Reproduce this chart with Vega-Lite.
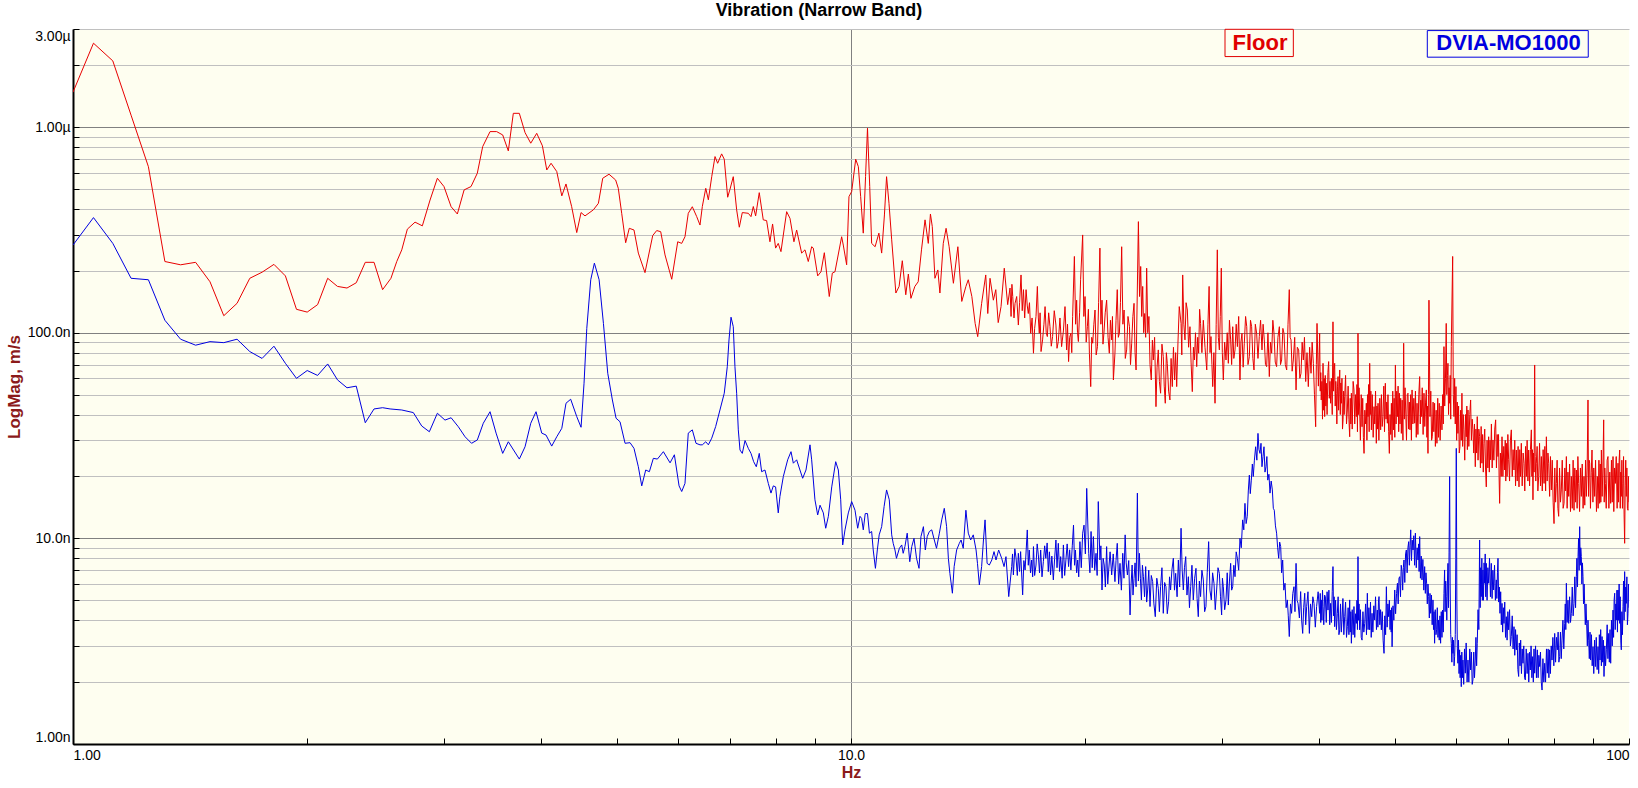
{
  "$schema": "https://vega.github.io/schema/vega-lite/v6.json",
  "description": "Vibration narrow band spectrum, Floor vs DVIA-MO1000, log-log",
  "width": 1556,
  "height": 715,
  "autosize": "none",
  "padding": {"left": 73, "top": 29, "right": 9, "bottom": 44},
  "background": "white",
  "title": {
    "text": "Vibration (Narrow Band)",
    "fontSize": 18,
    "fontWeight": "bold",
    "color": "black",
    "anchor": "middle",
    "offset": 9,
    "dx": -32
  },
  "datasets": {
    "floor": [
      {"f":1,"v":1479},{"f":1.0625,"v":2559},{"f":1.125,"v":2099},{"f":1.1875,"v":1143},{"f":1.25,"v":642},
      {"f":1.3125,"v":222},{"f":1.375,"v":214},{"f":1.4375,"v":220},{"f":1.5,"v":177},{"f":1.5625,"v":121},
      {"f":1.625,"v":139},{"f":1.6875,"v":184},{"f":1.75,"v":197},{"f":1.8125,"v":215},{"f":1.875,"v":189},
      {"f":1.9375,"v":130},{"f":2,"v":126},{"f":2.0625,"v":137},{"f":2.125,"v":184},{"f":2.1875,"v":168},
      {"f":2.25,"v":165},{"f":2.3125,"v":175},{"f":2.375,"v":220},{"f":2.4375,"v":220},{"f":2.5,"v":162},
      {"f":2.5625,"v":184},{"f":2.607,"v":222},{"f":2.646,"v":253},{"f":2.69,"v":319},{"f":2.752,"v":345},
      {"f":2.812,"v":331},{"f":2.877,"v":442},{"f":2.94,"v":564},{"f":2.998,"v":514},{"f":3.062,"v":410},
      {"f":3.119,"v":378},{"f":3.182,"v":495},{"f":3.248,"v":514},{"f":3.309,"v":597},{"f":3.362,"v":804},
      {"f":3.436,"v":951},{"f":3.504,"v":951},{"f":3.567,"v":916},{"f":3.627,"v":766},{"f":3.681,"v":1167},
      {"f":3.747,"v":1167},{"f":3.811,"v":940},{"f":3.876,"v":835},{"f":3.945,"v":933},{"f":4.012,"v":811},
      {"f":4.064,"v":619},{"f":4.116,"v":667},{"f":4.186,"v":608},{"f":4.249,"v":463},{"f":4.302,"v":529},
      {"f":4.375,"v":410},{"f":4.441,"v":307},{"f":4.498,"v":384},{"f":4.551,"v":370},{"f":4.665,"v":396},
      {"f":4.735,"v":426},{"f":4.796,"v":564},{"f":4.886,"v":590},{"f":4.983,"v":553},{"f":5.022,"v":504},
      {"f":5.073,"v":381},{"f":5.133,"v":274},{"f":5.188,"v":322},{"f":5.261,"v":316},{"f":5.329,"v":244},
      {"f":5.435,"v":196},{"f":5.561,"v":297},{"f":5.627,"v":314},{"f":5.694,"v":310},{"f":5.767,"v":239},
      {"f":5.883,"v":182},{"f":5.988,"v":277},{"f":6.059,"v":272},{"f":6.118,"v":293},{"f":6.178,"v":381},
      {"f":6.252,"v":410},{"f":6.334,"v":367},{"f":6.396,"v":334},{"f":6.44,"v":411},{"f":6.506,"v":504},
      {"f":6.556,"v":443},{"f":6.622,"v":574},{"f":6.687,"v":719},{"f":6.739,"v":667},{"f":6.819,"v":741},
      {"f":6.872,"v":698},{"f":6.942,"v":456},{"f":6.99,"v":499},{"f":7.058,"v":574},{"f":7.129,"v":396},
      {"f":7.185,"v":326},{"f":7.249,"v":384},{"f":7.379,"v":381},{"f":7.438,"v":367},{"f":7.489,"v":411},
      {"f":7.541,"v":370},{"f":7.622,"v":480},{"f":7.713,"v":354},{"f":7.79,"v":351},{"f":7.867,"v":277},
      {"f":7.929,"v":338},{"f":8,"v":258},{"f":8.063,"v":272},{"f":8.128,"v":248},{"f":8.266,"v":388},
      {"f":8.348,"v":360},{"f":8.446,"v":277},{"f":8.514,"v":316},{"f":8.641,"v":244},{"f":8.727,"v":253},
      {"f":8.812,"v":222},{"f":8.901,"v":262},{"f":8.944,"v":258},{"f":9.061,"v":189},{"f":9.15,"v":198},
      {"f":9.241,"v":245},{"f":9.377,"v":150},{"f":9.462,"v":195},{"f":9.537,"v":198},{"f":9.727,"v":293},
      {"f":9.774,"v":267},{"f":9.872,"v":214},{"f":9.94,"v":459},{"f":10.02,"v":486},{"f":10.14,"v":698},
      {"f":10.22,"v":642},{"f":10.29,"v":459},{"f":10.37,"v":305},{"f":10.44,"v":574},{"f":10.5,"v":988},
      {"f":10.57,"v":514},{"f":10.63,"v":272},{"f":10.74,"v":262},{"f":10.86,"v":305},{"f":10.95,"v":244},
      {"f":11.04,"v":374},{"f":11.11,"v":574},{"f":11.19,"v":426},{"f":11.28,"v":283},{"f":11.42,"v":156},
      {"f":11.53,"v":168},{"f":11.64,"v":224},{"f":11.76,"v":153},{"f":11.85,"v":193},{"f":11.94,"v":147},
      {"f":12.08,"v":168},{"f":12.2,"v":177},{"f":12.32,"v":253},{"f":12.45,"v":354},{"f":12.57,"v":272},
      {"f":12.65,"v":378},{"f":12.72,"v":328},{"f":12.82,"v":184},{"f":12.93,"v":202},{"f":13.01,"v":156},
      {"f":13.14,"v":272},{"f":13.25,"v":322},{"f":13.37,"v":262},{"f":13.54,"v":174},{"f":13.72,"v":262},
      {"f":13.88,"v":142},{"f":14.05,"v":168},{"f":14.15,"v":181},{"f":14.3,"v":150},{"f":14.44,"v":111},
      {"f":14.55,"v":95.7},{"f":14.72,"v":139},{"f":14.9,"v":191},{"f":14.99,"v":124},{"f":15.09,"v":184},
      {"f":15.24,"v":144},{"f":15.35,"v":162},{"f":15.46,"v":112},{"f":15.59,"v":134},{"f":15.74,"v":206},
      {"f":15.9,"v":137},
      {"f":16.01,"v":165},{"f":16.06,"v":120},{"f":16.1,"v":172},{"f":16.14,"v":150},{"f":16.2,"v":118},{"f":16.25,"v":139},
      {"f":16.33,"v":150},{"f":16.41,"v":109},{"f":16.47,"v":140},{"f":16.54,"v":191},{"f":16.6,"v":128},{"f":16.66,"v":162},
      {"f":16.72,"v":118},{"f":16.79,"v":162},{"f":16.85,"v":135},{"f":16.9,"v":124},{"f":16.96,"v":140},{"f":17.02,"v":99.4},
      {"f":17.09,"v":118},{"f":17.16,"v":79.5},{"f":17.22,"v":105},{"f":17.29,"v":120},{"f":17.36,"v":168},{"f":17.41,"v":118},
      {"f":17.46,"v":99.4},{"f":17.5,"v":125},{"f":17.55,"v":81},{"f":17.63,"v":92.3},{"f":17.7,"v":110},{"f":17.76,"v":134},
      {"f":17.82,"v":100},{"f":17.88,"v":95.8},{"f":17.95,"v":125},{"f":18.02,"v":107},{"f":18.09,"v":86},{"f":18.16,"v":95.8},
      {"f":18.25,"v":128},{"f":18.34,"v":109},{"f":18.4,"v":84},{"f":18.47,"v":90.6},{"f":18.56,"v":118},{"f":18.65,"v":85.6},
      {"f":18.75,"v":102},{"f":18.84,"v":134},{"f":18.93,"v":82.5},{"f":18.98,"v":110},{"f":19.04,"v":72.4},{"f":19.1,"v":95},
      {"f":19.17,"v":99.4},{"f":19.22,"v":80},{"f":19.27,"v":120},{"f":19.37,"v":235},{"f":19.44,"v":110},{"f":19.5,"v":144},
      {"f":19.55,"v":100},{"f":19.6,"v":90.6},{"f":19.67,"v":125},{"f":19.73,"v":181},{"f":19.85,"v":299},{"f":19.92,"v":120},
      {"f":19.99,"v":150},{"f":20.06,"v":90},{"f":20.13,"v":107},{"f":20.19,"v":130},{"f":20.25,"v":79.5},{"f":20.33,"v":54.7},
      {"f":20.39,"v":95},{"f":20.45,"v":88.9},{"f":20.52,"v":110},{"f":20.59,"v":129},{"f":20.66,"v":78},{"f":20.74,"v":85.6},
      {"f":20.81,"v":140},{"f":20.89,"v":258},{"f":20.95,"v":110},{"f":21.02,"v":144},{"f":21.08,"v":88},{"f":21.14,"v":99.4},
      {"f":21.22,"v":125},{"f":21.31,"v":144},{"f":21.4,"v":95},{"f":21.48,"v":79.5},{"f":21.55,"v":115},{"f":21.63,"v":92.3},
      {"f":21.68,"v":120},{"f":21.74,"v":58.9},{"f":21.84,"v":79.5},{"f":21.91,"v":115},{"f":21.99,"v":162},{"f":22.06,"v":95},
      {"f":22.13,"v":99.4},{"f":22.2,"v":140},{"f":22.28,"v":262},{"f":22.36,"v":110},{"f":22.44,"v":129},{"f":22.52,"v":75},
      {"f":22.61,"v":82.5},{"f":22.7,"v":120},{"f":22.8,"v":107},{"f":22.87,"v":70},{"f":22.95,"v":88.9},{"f":23.03,"v":120},
      {"f":23.11,"v":139},{"f":23.18,"v":80},{"f":23.25,"v":65.9},{"f":23.41,"v":347},{"f":23.49,"v":150},{"f":23.57,"v":210},
      {"f":23.64,"v":120},{"f":23.71,"v":168},{"f":23.78,"v":100},{"f":23.85,"v":124},{"f":23.92,"v":95},{"f":23.99,"v":206},
      {"f":24.07,"v":100},{"f":24.15,"v":120},{"f":24.23,"v":70},{"f":24.32,"v":58.9},{"f":24.4,"v":92},{"f":24.47,"v":73.7},
      {"f":24.56,"v":95},{"f":24.66,"v":43.7},{"f":24.74,"v":68},{"f":24.83,"v":82.5},{"f":24.91,"v":58},{"f":25,"v":50.8},
      {"f":25.1,"v":88},{"f":25.2,"v":76.5},{"f":25.27,"v":55},{"f":25.35,"v":45.4},{"f":25.43,"v":80},{"f":25.5,"v":71},
      {"f":25.6,"v":52},{"f":25.7,"v":47.1},{"f":25.79,"v":75},{"f":25.88,"v":54.7},{"f":25.97,"v":85},{"f":26.06,"v":58.9},
      {"f":26.14,"v":80},{"f":26.22,"v":54.7},{"f":26.32,"v":90},{"f":26.42,"v":134},{"f":26.56,"v":111},{"f":26.62,"v":78},
      {"f":26.69,"v":191},{"f":26.78,"v":110},{"f":26.87,"v":92.3},{"f":26.96,"v":140},{"f":27.06,"v":129},{"f":27.16,"v":85},
      {"f":27.27,"v":107},{"f":27.36,"v":72},{"f":27.46,"v":51.7},{"f":27.55,"v":85},{"f":27.63,"v":73.7},{"f":27.72,"v":100},
      {"f":27.82,"v":68.4},{"f":27.9,"v":95},{"f":27.98,"v":79.5},{"f":28.06,"v":130},{"f":28.14,"v":111},{"f":28.25,"v":80},
      {"f":28.37,"v":115},{"f":28.51,"v":85},{"f":28.66,"v":65.9},{"f":28.76,"v":110},{"f":28.86,"v":168},{"f":28.94,"v":80},
      {"f":29.02,"v":95.8},{"f":29.1,"v":70},{"f":29.17,"v":54.7},{"f":29.27,"v":80},{"f":29.37,"v":45.4},{"f":29.47,"v":110},
      {"f":29.57,"v":253},{"f":29.66,"v":95},{"f":29.75,"v":82.5},{"f":29.83,"v":120},{"f":29.92,"v":206},{"f":30.01,"v":80},
      {"f":30.1,"v":58.9},{"f":30.22,"v":90},{"f":30.34,"v":73.7},{"f":30.45,"v":100},{"f":30.55,"v":71},{"f":30.65,"v":115},
      {"f":30.76,"v":92.3},{"f":30.85,"v":70},{"f":30.95,"v":107},{"f":31.05,"v":75},{"f":31.16,"v":82.5},{"f":31.27,"v":110},
      {"f":31.38,"v":85.6},{"f":31.5,"v":120},{"f":31.62,"v":58.9},{"f":31.71,"v":90},{"f":31.81,"v":99.4},{"f":31.92,"v":68},
      {"f":32.03,"v":88.9},{"f":32.15,"v":120},{"f":32.26,"v":107},{"f":32.38,"v":70},{"f":32.51,"v":76.5},{"f":32.62,"v":115},
      {"f":32.73,"v":107},{"f":32.85,"v":75},{"f":32.96,"v":65.9},{"f":33.09,"v":110},{"f":33.22,"v":99.4},{"f":33.35,"v":75},
      {"f":33.48,"v":95.8},{"f":33.61,"v":115},{"f":33.75,"v":82.5},{"f":33.86,"v":110},{"f":33.98,"v":92.3},{"f":34.1,"v":70},
      {"f":34.22,"v":68.4},{"f":34.35,"v":100},{"f":34.49,"v":61.2},{"f":34.61,"v":90},{"f":34.73,"v":79.5},{"f":34.85,"v":115},
      {"f":34.97,"v":99.4},{"f":35.1,"v":72},{"f":35.24,"v":68.4},{"f":35.38,"v":95},{"f":35.53,"v":107},{"f":35.65,"v":70},
      {"f":35.77,"v":73.7},{"f":35.9,"v":105},{"f":36.02,"v":99.4},{"f":36.16,"v":70},{"f":36.31,"v":65.9},{"f":36.45,"v":110},
      {"f":36.59,"v":162},{"f":36.68,"v":95},{"f":36.78,"v":92.3},{"f":36.9,"v":65},{"f":37.03,"v":73.7},{"f":37.18,"v":95},
      {"f":37.33,"v":52.7},{"f":37.47,"v":85},{"f":37.62,"v":82.5},{"f":37.75,"v":60},{"f":37.88,"v":63.5},{"f":38.01,"v":90},
      {"f":38.14,"v":73.7},{"f":38.27,"v":95},{"f":38.41,"v":57.9},{"f":38.56,"v":80},{"f":38.71,"v":54.7},{"f":38.86,"v":85},
      {"f":39.02,"v":63.5},{"f":39.15,"v":90},{"f":39.29,"v":71},{"f":39.42,"v":50},{"f":39.56,"v":34.9},{"f":39.64,"v":70},
      {"f":39.72,"v":111},{"f":39.88,"v":55},
      {"f":40.03,"v":99.4},{"f":40.1,"v":52},{"f":40.16,"v":64},{"f":40.22,"v":47.1},{"f":40.3,"v":58},{"f":40.37,"v":38},
      {"f":40.43,"v":71},{"f":40.5,"v":42},{"f":40.57,"v":60},{"f":40.63,"v":39.1},{"f":40.7,"v":62},{"f":40.77,"v":44},
      {"f":40.83,"v":56.8},{"f":40.92,"v":40},{"f":41.02,"v":64},{"f":41.11,"v":72.4},{"f":41.19,"v":48},{"f":41.27,"v":58},
      {"f":41.35,"v":45.4},{"f":41.45,"v":60},{"f":41.55,"v":40},{"f":41.64,"v":113},{"f":41.71,"v":52},{"f":41.78,"v":66},
      {"f":41.85,"v":71},{"f":41.92,"v":44},{"f":41.99,"v":58},{"f":42.05,"v":50.8},{"f":42.12,"v":36},{"f":42.2,"v":55},
      {"f":42.27,"v":61.2},{"f":42.34,"v":42},{"f":42.41,"v":52},{"f":42.48,"v":65.9},{"f":42.55,"v":40},{"f":42.62,"v":57},
      {"f":42.69,"v":45.4},{"f":42.76,"v":60},{"f":42.83,"v":34},{"f":42.9,"v":37.7},{"f":42.97,"v":52},{"f":43.04,"v":40},
      {"f":43.11,"v":48.9},{"f":43.22,"v":62},{"f":43.34,"v":36},{"f":43.45,"v":42.1},{"f":43.55,"v":55},{"f":43.65,"v":38},
      {"f":43.75,"v":31.2},{"f":43.82,"v":48},{"f":43.9,"v":36},{"f":43.97,"v":50.8},{"f":44.08,"v":34},{"f":44.2,"v":58},
      {"f":44.31,"v":52.7},{"f":44.41,"v":36},{"f":44.52,"v":50},{"f":44.62,"v":39.1},{"f":44.7,"v":56},{"f":44.77,"v":33},
      {"f":44.84,"v":99.4},{"f":44.91,"v":40},{"f":44.98,"v":54},{"f":45.06,"v":42.1},{"f":45.16,"v":30},{"f":45.27,"v":50},
      {"f":45.38,"v":34.9},{"f":45.47,"v":48},{"f":45.56,"v":31},{"f":45.65,"v":25.9},{"f":45.75,"v":42},{"f":45.86,"v":36},
      {"f":45.96,"v":45.4},{"f":46.04,"v":30},{"f":46.12,"v":50},{"f":46.19,"v":39.1},{"f":46.27,"v":56},{"f":46.35,"v":33},
      {"f":46.42,"v":71},{"f":46.5,"v":40},{"f":46.58,"v":52},{"f":46.65,"v":33.7},{"f":46.77,"v":50},{"f":46.9,"v":31},
      {"f":47.02,"v":43.7},{"f":47.12,"v":36},{"f":47.23,"v":52},{"f":47.34,"v":29},{"f":47.42,"v":44},{"f":47.5,"v":34},
      {"f":47.58,"v":45.4},{"f":47.7,"v":30},{"f":47.83,"v":48},{"f":47.95,"v":33.7},{"f":48.06,"v":50},{"f":48.17,"v":35},
      {"f":48.28,"v":39.1},{"f":48.4,"v":55},{"f":48.5,"v":33},{"f":48.62,"v":56.8},{"f":48.72,"v":38},{"f":48.82,"v":46},
      {"f":48.91,"v":36.3},{"f":49,"v":50},{"f":49.1,"v":33},{"f":49.2,"v":25.9},{"f":49.3,"v":40},{"f":49.4,"v":32},
      {"f":49.5,"v":45.4},{"f":49.6,"v":30},{"f":49.7,"v":52},{"f":49.8,"v":33.7},{"f":49.9,"v":48},{"f":50,"v":31},
      {"f":50.09,"v":69.7},{"f":50.19,"v":36},{"f":50.29,"v":52},{"f":50.39,"v":39.1},{"f":50.49,"v":55},{"f":50.58,"v":33},
      {"f":50.68,"v":50.8},{"f":50.78,"v":36},{"f":50.88,"v":48},{"f":50.98,"v":32.4},{"f":51.1,"v":47},{"f":51.22,"v":30},
      {"f":51.33,"v":88.9},{"f":51.43,"v":38},{"f":51.54,"v":54},{"f":51.64,"v":42.1},{"f":51.76,"v":30},{"f":51.88,"v":50},
      {"f":51.99,"v":50.8},{"f":52.09,"v":34},{"f":52.2,"v":46},{"f":52.3,"v":33.7},{"f":52.41,"v":50},{"f":52.52,"v":30},
      {"f":52.62,"v":52.7},{"f":52.75,"v":36},{"f":52.9,"v":48},{"f":53.03,"v":36.3},{"f":53.15,"v":52},{"f":53.28,"v":31},
      {"f":53.4,"v":45.4},{"f":53.54,"v":32},{"f":53.68,"v":50},{"f":53.82,"v":61.2},{"f":53.91,"v":36},{"f":54,"v":47},
      {"f":54.09,"v":39.1},{"f":54.23,"v":54},{"f":54.37,"v":32},{"f":54.51,"v":50.8},{"f":54.64,"v":35},{"f":54.77,"v":46},
      {"f":54.89,"v":52.7},{"f":54.98,"v":31},{"f":55.07,"v":44},{"f":55.16,"v":25.9},{"f":55.24,"v":50},{"f":55.32,"v":144},
      {"f":55.49,"v":39.1},{"f":55.62,"v":52},{"f":55.75,"v":30},{"f":55.87,"v":31.2},{"f":56,"v":46},{"f":56.12,"v":33},
      {"f":56.25,"v":45.4},{"f":56.38,"v":28},{"f":56.51,"v":42},{"f":56.64,"v":29},{"f":56.77,"v":48},{"f":56.9,"v":31},
      {"f":57.03,"v":45.4},{"f":57.18,"v":30},{"f":57.34,"v":44},{"f":57.49,"v":33.7},{"f":57.6,"v":50},{"f":57.72,"v":36},
      {"f":57.83,"v":85.6},{"f":57.96,"v":44},{"f":58.09,"v":60},{"f":58.22,"v":111},{"f":58.32,"v":50},{"f":58.42,"v":62},
      {"f":58.52,"v":71},{"f":58.62,"v":40},{"f":58.71,"v":54},{"f":58.81,"v":45.4},{"f":58.91,"v":62},{"f":59,"v":38},
      {"f":59.1,"v":85.6},{"f":59.34,"v":235},{"f":59.45,"v":50},{"f":59.57,"v":39.1},{"f":59.69,"v":60},{"f":59.8,"v":36},
      {"f":59.92,"v":54.7},{"f":60.04,"v":30},{"f":60.15,"v":46},{"f":60.27,"v":32.4},{"f":60.39,"v":44},{"f":60.51,"v":26},
      {"f":60.63,"v":27.9},{"f":60.75,"v":42},{"f":60.87,"v":30},{"f":60.99,"v":50.8},{"f":61.11,"v":28},{"f":61.23,"v":40},
      {"f":61.35,"v":33.7},{"f":61.5,"v":24},{"f":61.64,"v":40},{"f":61.78,"v":31.2},{"f":61.88,"v":44},{"f":61.98,"v":27},
      {"f":62.09,"v":42.1},{"f":62.25,"v":28},{"f":62.42,"v":40},{"f":62.58,"v":47.1},{"f":62.72,"v":30},{"f":62.87,"v":38},
      {"f":63.01,"v":33.7},{"f":63.16,"v":26},{"f":63.3,"v":36},{"f":63.45,"v":22.3},{"f":63.57,"v":34},{"f":63.7,"v":26},
      {"f":63.82,"v":39.1},{"f":63.97,"v":24},{"f":64.12,"v":34},{"f":64.27,"v":31.2},{"f":64.42,"v":22},{"f":64.56,"v":35},
      {"f":64.71,"v":23.2},{"f":64.84,"v":32},{"f":64.97,"v":21},{"f":65.1,"v":29},{"f":65.25,"v":34},{"f":65.4,"v":22},
      {"f":65.55,"v":17.8},{"f":65.7,"v":30},{"f":65.86,"v":22},{"f":66.01,"v":31.2},{"f":66.14,"v":21},{"f":66.27,"v":30},
      {"f":66.4,"v":24.1},{"f":66.55,"v":36},{"f":66.7,"v":22},{"f":66.86,"v":30.1},{"f":67.04,"v":24},{"f":67.21,"v":34},
      {"f":67.39,"v":37.7},{"f":67.55,"v":22},{"f":67.7,"v":32},{"f":67.86,"v":25},{"f":67.97,"v":32},{"f":68.08,"v":20},
      {"f":68.19,"v":14.8},{"f":68.35,"v":26},{"f":68.51,"v":20},{"f":68.67,"v":31.2},{"f":68.85,"v":20},{"f":69.03,"v":28},
      {"f":69.21,"v":21.5},{"f":69.33,"v":30},{"f":69.44,"v":19},{"f":69.55,"v":29},{"f":69.71,"v":20},{"f":69.87,"v":32},
      {"f":70.03,"v":24.1},{"f":70.22,"v":19},{"f":70.4,"v":30},{"f":70.59,"v":33.7},{"f":70.78,"v":20},{"f":70.96,"v":27},
      {"f":71.15,"v":21.5},{"f":71.31,"v":30},{"f":71.48,"v":18},{"f":71.64,"v":26.9},{"f":71.83,"v":19},{"f":72.02,"v":28},
      {"f":72.21,"v":17.8},{"f":72.38,"v":27},{"f":72.54,"v":20},{"f":72.71,"v":29},{"f":72.9,"v":18},{"f":73.1,"v":26},
      {"f":73.29,"v":23.2},{"f":73.46,"v":17},{"f":73.63,"v":28},{"f":73.8,"v":20},{"f":73.97,"v":30},{"f":74.14,"v":19},
      {"f":74.31,"v":26.9},{"f":74.51,"v":18},{"f":74.7,"v":27},{"f":74.9,"v":33.7},{"f":75.02,"v":20},{"f":75.14,"v":27},
      {"f":75.26,"v":15.4},{"f":75.38,"v":26},{"f":75.51,"v":21},{"f":75.64,"v":69.7},{"f":75.76,"v":25},{"f":75.89,"v":19},
      {"f":76.01,"v":23.2},{"f":76.19,"v":28},{"f":76.36,"v":17},{"f":76.54,"v":20},{"f":76.74,"v":29},{"f":76.95,"v":18},
      {"f":77.15,"v":25},{"f":77.36,"v":17},{"f":77.56,"v":27},{"f":77.77,"v":18.5},{"f":77.95,"v":28},{"f":78.13,"v":17},
      {"f":78.31,"v":31.2},{"f":78.49,"v":19},{"f":78.67,"v":26},{"f":78.85,"v":23.2},{"f":79.06,"v":16},{"f":79.26,"v":25},
      {"f":79.47,"v":17.2},{"f":79.68,"v":24},{"f":79.89,"v":15},{"f":80.1,"v":11.8},{"f":80.28,"v":22},{"f":80.47,"v":15},
      {"f":80.65,"v":18.5},{"f":80.84,"v":24},{"f":81.02,"v":14},{"f":81.21,"v":12.8},{"f":81.42,"v":22},{"f":81.64,"v":15},
      {"f":81.85,"v":17.2},{"f":82.07,"v":24},{"f":82.29,"v":14},{"f":82.51,"v":14.8},{"f":82.7,"v":22},{"f":82.89,"v":17},
      {"f":83.08,"v":25},{"f":83.27,"v":14},{"f":83.47,"v":21},{"f":83.66,"v":16},{"f":83.88,"v":23},{"f":84.1,"v":13.5},
      {"f":84.32,"v":20},{"f":84.54,"v":14},{"f":84.76,"v":24},{"f":84.98,"v":13.7},{"f":85.18,"v":22},{"f":85.37,"v":15},
      {"f":85.57,"v":21.5},{"f":85.77,"v":14},{"f":85.96,"v":25},{"f":86.16,"v":18.5},{"f":86.39,"v":13.5},{"f":86.61,"v":22},
      {"f":86.84,"v":16},{"f":87.07,"v":23},{"f":87.3,"v":14},{"f":87.53,"v":20},{"f":87.73,"v":14.5},{"f":87.94,"v":24},
      {"f":88.14,"v":16},{"f":88.35,"v":22},{"f":88.57,"v":47.1},{"f":88.72,"v":16},{"f":88.87,"v":24},{"f":89.02,"v":23.2},
      {"f":89.22,"v":14},{"f":89.43,"v":21},{"f":89.63,"v":26.9},{"f":89.87,"v":15},{"f":90.1,"v":22},{"f":90.34,"v":16},
      {"f":90.58,"v":24},{"f":90.82,"v":13.5},{"f":91.06,"v":20},{"f":91.27,"v":14},{"f":91.48,"v":24},{"f":91.69,"v":14.8},
      {"f":91.84,"v":23},{"f":92,"v":15},{"f":92.15,"v":26.9},{"f":92.36,"v":16},{"f":92.57,"v":22},{"f":92.78,"v":37.7},
      {"f":92.93,"v":15},{"f":93.09,"v":22},{"f":93.24,"v":18.5},{"f":93.48,"v":14},{"f":93.73,"v":24},{"f":93.97,"v":25},
      {"f":94.22,"v":14},{"f":94.47,"v":21},{"f":94.72,"v":14.8},{"f":94.94,"v":24},{"f":95.16,"v":15},{"f":95.38,"v":25},
      {"f":95.6,"v":13.5},{"f":95.82,"v":22},{"f":96.04,"v":18.5},{"f":96.29,"v":25},{"f":96.55,"v":14},{"f":96.8,"v":23.2},
      {"f":96.96,"v":15},{"f":97.12,"v":24},{"f":97.28,"v":26.9},{"f":97.44,"v":14},{"f":97.6,"v":21},{"f":97.75,"v":16},
      {"f":97.91,"v":24},{"f":98.08,"v":14},{"f":98.24,"v":18.5},{"f":98.4,"v":25},{"f":98.56,"v":13},{"f":98.72,"v":9.46},
      {"f":98.88,"v":18},{"f":99.04,"v":24},{"f":99.2,"v":16},{"f":99.37,"v":22},{"f":99.53,"v":14},{"f":99.7,"v":13.7},
      {"f":99.85,"v":20},{"f":100,"v":15}
    ],
    "dvia": [
      {"f":1,"v":267},{"f":1.0625,"v":363},{"f":1.125,"v":272},{"f":1.1875,"v":184},{"f":1.25,"v":181},
      {"f":1.3125,"v":115},{"f":1.375,"v":93},{"f":1.4375,"v":87},{"f":1.5,"v":90.5},{"f":1.5625,"v":89.5},
      {"f":1.625,"v":93},{"f":1.6875,"v":81},{"f":1.75,"v":75},{"f":1.8125,"v":86},{"f":1.875,"v":71},
      {"f":1.9375,"v":60},{"f":2,"v":65.5},{"f":2.0625,"v":62},{"f":2.125,"v":70.5},{"f":2.1875,"v":59},
      {"f":2.25,"v":54},{"f":2.3125,"v":55},{"f":2.375,"v":36.5},{"f":2.4375,"v":42.6},{"f":2.5,"v":43.2},
      {"f":2.556,"v":42.6},{"f":2.646,"v":42.1},{"f":2.738,"v":40.9},{"f":2.807,"v":35.2},{"f":2.871,"v":33},
      {"f":2.94,"v":40.6},{"f":3.007,"v":37.6},{"f":3.062,"v":38.6},{"f":3.128,"v":34.9},{"f":3.191,"v":31.2},
      {"f":3.253,"v":29},{"f":3.309,"v":30.1},{"f":3.368,"v":36.3},{"f":3.436,"v":41.3},{"f":3.498,"v":32.5},
      {"f":3.567,"v":25.9},{"f":3.627,"v":29.5},{"f":3.747,"v":24.3},{"f":3.811,"v":27.9},{"f":3.876,"v":36.3},
      {"f":3.937,"v":41.3},{"f":4.004,"v":32.5},{"f":4.055,"v":31.8},{"f":4.124,"v":28.1},{"f":4.186,"v":31.2},
      {"f":4.249,"v":34.3},{"f":4.302,"v":45.4},{"f":4.362,"v":47.5},{"f":4.441,"v":39.1},{"f":4.498,"v":34.7},
      {"f":4.538,"v":56.8},{"f":4.575,"v":105},{"f":4.629,"v":181},{"f":4.679,"v":218},{"f":4.745,"v":181},
      {"f":4.806,"v":111},{"f":4.868,"v":63.5},{"f":4.935,"v":47.1},{"f":4.989,"v":38.4},{"f":5.048,"v":36.9},
      {"f":5.124,"v":29},{"f":5.2,"v":29.2},{"f":5.261,"v":27.4},{"f":5.329,"v":22.3},{"f":5.383,"v":18},
      {"f":5.447,"v":21.5},{"f":5.506,"v":21.1},{"f":5.571,"v":24.5},{"f":5.638,"v":24.3},{"f":5.739,"v":26.4},
      {"f":5.854,"v":23.3},{"f":5.929,"v":25.5},{"f":6.012,"v":18},{"f":6.059,"v":16.9},{"f":6.118,"v":18.5},
      {"f":6.178,"v":32.5},{"f":6.252,"v":33.7},{"f":6.321,"v":29},{"f":6.396,"v":28.5},{"f":6.44,"v":28.5},
      {"f":6.506,"v":29.5},{"f":6.556,"v":28.5},{"f":6.622,"v":30.7},{"f":6.7,"v":35},{"f":6.785,"v":42.1},
      {"f":6.872,"v":50.8},{"f":6.934,"v":68.4},{"f":6.969,"v":92.2},{"f":7.011,"v":119},{"f":7.058,"v":107},
      {"f":7.093,"v":68.4},{"f":7.129,"v":50.8},{"f":7.164,"v":33.7},{"f":7.2,"v":26.9},{"f":7.249,"v":25.9},
      {"f":7.308,"v":29.9},{"f":7.379,"v":27.4},{"f":7.438,"v":25.9},{"f":7.497,"v":23.6},{"f":7.556,"v":22.3},
      {"f":7.622,"v":25.9},{"f":7.676,"v":21.1},{"f":7.752,"v":21.5},{"f":7.829,"v":18.5},{"f":7.891,"v":16.6},
      {"f":7.946,"v":18},{"f":8,"v":17.8},{"f":8.063,"v":13.3},{"f":8.103,"v":16},{"f":8.185,"v":20},
      {"f":8.291,"v":24.1},{"f":8.373,"v":26.4},{"f":8.431,"v":23.2},{"f":8.514,"v":24.1},{"f":8.598,"v":21.5},
      {"f":8.667,"v":19.6},{"f":8.753,"v":21.5},{"f":8.857,"v":28.5},{"f":8.901,"v":24.1},{"f":8.988,"v":15.4},
      {"f":9.061,"v":13},{"f":9.124,"v":14.5},{"f":9.214,"v":13.3},{"f":9.279,"v":11.2},{"f":9.352,"v":12.8},
      {"f":9.446,"v":17.8},{"f":9.557,"v":23.6},{"f":9.632,"v":21.5},{"f":9.7,"v":15.4},{"f":9.757,"v":9.29},
      {"f":9.824,"v":11},{"f":9.921,"v":13.3},{"f":10.02,"v":15.1},{"f":10.12,"v":13.7},{"f":10.2,"v":11.2},
      {"f":10.27,"v":12.8},{"f":10.32,"v":12.5},{"f":10.37,"v":11},{"f":10.43,"v":13.2},{"f":10.5,"v":13.2},
      {"f":10.56,"v":10.6},{"f":10.63,"v":10.8},{"f":10.68,"v":8.78},{"f":10.75,"v":7.15},{"f":10.81,"v":8.78},
      {"f":10.87,"v":10.4},{"f":10.95,"v":11.4},{"f":11.03,"v":14.3},{"f":11.11,"v":17.2},{"f":11.2,"v":15.4},
      {"f":11.28,"v":10.4},{"f":11.33,"v":9.46},{"f":11.39,"v":8.78},{"f":11.44,"v":8},{"f":11.54,"v":8.95},
      {"f":11.62,"v":9.29},{"f":11.67,"v":8.46},{"f":11.73,"v":9.12},{"f":11.81,"v":10.6},{"f":11.9,"v":7.7},
      {"f":11.97,"v":9.12},{"f":12.05,"v":10},{"f":12.14,"v":8},{"f":12.23,"v":7.15},{"f":12.3,"v":10.2},
      {"f":12.39,"v":11.4},{"f":12.46,"v":8.78},{"f":12.53,"v":10.2},{"f":12.61,"v":10.8},{"f":12.7,"v":11},
      {"f":12.78,"v":10},{"f":12.88,"v":8.95},{"f":12.99,"v":10.6},{"f":13.08,"v":12.3},{"f":13.18,"v":14},
      {"f":13.27,"v":11.4},{"f":13.34,"v":8},{"f":13.4,"v":6.76},{"f":13.5,"v":5.41},{"f":13.57,"v":7.29},
      {"f":13.67,"v":8.78},{"f":13.78,"v":9.46},{"f":13.85,"v":9.82},{"f":13.94,"v":8.95},{"f":14.05,"v":13.7},
      {"f":14.15,"v":10.6},{"f":14.25,"v":9.82},{"f":14.36,"v":10.4},{"f":14.48,"v":8.78},{"f":14.54,"v":7.56},
      {"f":14.62,"v":5.94},{"f":14.72,"v":7.29},{"f":14.8,"v":9.82},{"f":14.87,"v":12.3},{"f":14.96,"v":7.56},
      {"f":15.06,"v":7.42},{"f":15.17,"v":7.85},{"f":15.27,"v":8.62},{"f":15.36,"v":7.85},{"f":15.48,"v":8.78},
      {"f":15.62,"v":8},{"f":15.73,"v":7.29},{"f":15.82,"v":8.15},{"f":15.95,"v":5.21},
      {"f":16.09,"v":7.29},{"f":16.13,"v":8.4},{"f":16.17,"v":6.64},{"f":16.24,"v":8.9},{"f":16.3,"v":8},{"f":16.36,"v":6.6},
      {"f":16.41,"v":8.46},{"f":16.47,"v":6.9},{"f":16.52,"v":8.62},{"f":16.62,"v":5.31},{"f":16.68,"v":7.8},{"f":16.74,"v":7.02},
      {"f":16.85,"v":10.99},{"f":16.9,"v":7.4},{"f":16.95,"v":8.78},{"f":17.01,"v":6.8},{"f":17.07,"v":7.85},{"f":17.12,"v":6.5},
      {"f":17.16,"v":9.12},{"f":17.22,"v":6.6},{"f":17.29,"v":7.42},{"f":17.35,"v":9.4},{"f":17.41,"v":8.31},{"f":17.47,"v":6.8},
      {"f":17.53,"v":8.78},{"f":17.6,"v":6.5},{"f":17.67,"v":7.7},{"f":17.74,"v":9.2},{"f":17.8,"v":8},{"f":17.87,"v":9.5},
      {"f":17.93,"v":6.89},{"f":17.99,"v":8.6},{"f":18.05,"v":6.64},{"f":18.12,"v":8.2},{"f":18.2,"v":6.28},{"f":18.27,"v":8},
      {"f":18.34,"v":9.82},{"f":18.4,"v":7.2},{"f":18.47,"v":9.46},{"f":18.54,"v":6.9},{"f":18.6,"v":8.15},{"f":18.68,"v":6.4},
      {"f":18.75,"v":9.29},{"f":18.82,"v":6.6},{"f":18.89,"v":7.85},{"f":18.96,"v":9.4},{"f":19.04,"v":7.29},{"f":19.1,"v":8.8},
      {"f":19.17,"v":7.02},{"f":19.25,"v":9.2},{"f":19.32,"v":11.6},{"f":19.38,"v":7.4},{"f":19.43,"v":8.78},{"f":19.5,"v":6.8},
      {"f":19.56,"v":7.85},{"f":19.62,"v":6.5},{"f":19.69,"v":9.64},{"f":19.77,"v":7.2},{"f":19.85,"v":10.6},{"f":19.93,"v":11.6},
      {"f":20.01,"v":8.4},{"f":20.09,"v":17.5},{"f":20.21,"v":8.46},{"f":20.28,"v":6.8},{"f":20.35,"v":10.8},{"f":20.42,"v":7.2},
      {"f":20.49,"v":10.2},{"f":20.57,"v":7},{"f":20.65,"v":8.46},{"f":20.72,"v":6.6},{"f":20.79,"v":15.1},{"f":20.89,"v":7.85},
      {"f":20.95,"v":9.2},{"f":21.02,"v":5.61},{"f":21.09,"v":8},{"f":21.16,"v":7.42},{"f":21.23,"v":5.8},{"f":21.31,"v":9.12},
      {"f":21.38,"v":6},{"f":21.44,"v":7.02},{"f":21.53,"v":8.6},{"f":21.63,"v":6.64},{"f":21.73,"v":8.4},{"f":21.84,"v":6.16},
      {"f":21.91,"v":7.8},{"f":21.99,"v":9.46},{"f":22.08,"v":6},{"f":22.17,"v":7.56},{"f":22.26,"v":5.6},{"f":22.35,"v":8.46},
      {"f":22.43,"v":6.4},{"f":22.51,"v":10.4},{"f":22.58,"v":7.6},{"f":22.66,"v":6.64},{"f":22.75,"v":7.8},{"f":22.84,"v":4.24},
      {"f":22.91,"v":6},{"f":22.98,"v":7.42},{"f":23.04,"v":5.3},{"f":23.11,"v":6.39},{"f":23.18,"v":7.6},{"f":23.25,"v":5.82},
      {"f":23.34,"v":16.6},{"f":23.41,"v":6.2},{"f":23.48,"v":8.46},{"f":23.55,"v":6.4},{"f":23.62,"v":5.02},{"f":23.69,"v":7.4},
      {"f":23.76,"v":6.51},{"f":23.84,"v":5.2},{"f":23.92,"v":7.29},{"f":23.99,"v":4.9},{"f":24.06,"v":5.61},{"f":24.14,"v":7},
      {"f":24.23,"v":4.66},{"f":24.32,"v":6.6},{"f":24.42,"v":6.16},{"f":24.51,"v":4.8},{"f":24.61,"v":4.16},{"f":24.72,"v":6.4},
      {"f":24.83,"v":5.72},{"f":24.91,"v":4.4},{"f":25,"v":5.82},{"f":25.1,"v":7.2},{"f":25.2,"v":4.32},{"f":25.3,"v":6.1},
      {"f":25.4,"v":5.82},{"f":25.5,"v":4.3},{"f":25.6,"v":4.92},{"f":25.67,"v":6.5},{"f":25.75,"v":5.61},{"f":25.85,"v":7},
      {"f":25.96,"v":8},{"f":26.05,"v":5.6},{"f":26.14,"v":6.76},{"f":26.25,"v":5.2},{"f":26.35,"v":7.85},{"f":26.45,"v":5.8},
      {"f":26.56,"v":11.2},{"f":26.65,"v":7},{"f":26.74,"v":5.61},{"f":26.83,"v":7.2},{"f":26.93,"v":8.15},{"f":27.03,"v":5.3},
      {"f":27.14,"v":6.51},{"f":27.23,"v":4.6},{"f":27.33,"v":5.82},{"f":27.43,"v":7.4},{"f":27.54,"v":5.02},{"f":27.65,"v":6.4},
      {"f":27.76,"v":7.15},{"f":27.85,"v":5.1},{"f":27.95,"v":4.16},{"f":28.04,"v":6.2},{"f":28.14,"v":5.21},{"f":28.25,"v":7},
      {"f":28.37,"v":6.28},{"f":28.48,"v":4.4},{"f":28.59,"v":4.66},{"f":28.7,"v":6.8},{"f":28.82,"v":9.64},{"f":28.93,"v":5.6},
      {"f":29.05,"v":5.02},{"f":29.16,"v":6.8},{"f":29.28,"v":6.05},{"f":29.39,"v":4.5},{"f":29.51,"v":5.61},{"f":29.63,"v":7.2},
      {"f":29.75,"v":6.76},{"f":29.85,"v":5.2},{"f":29.95,"v":4.24},{"f":30.02,"v":6.4},{"f":30.1,"v":5.82},{"f":30.22,"v":4.5},
      {"f":30.34,"v":5.02},{"f":30.45,"v":6.8},{"f":30.55,"v":4.74},{"f":30.65,"v":6.2},{"f":30.76,"v":7.56},{"f":30.85,"v":5.6},
      {"f":30.95,"v":5.82},{"f":31.05,"v":7.4},{"f":31.16,"v":6.51},{"f":31.27,"v":8.6},{"f":31.38,"v":8},{"f":31.5,"v":7},
      {"f":31.62,"v":10},{"f":31.74,"v":9},{"f":31.87,"v":12.3},{"f":31.98,"v":11},{"f":32.09,"v":14.8},{"f":32.2,"v":11.8},
      {"f":32.31,"v":12.8},{"f":32.41,"v":17},{"f":32.51,"v":20.3},{"f":32.6,"v":16.5},{"f":32.7,"v":19.2},{"f":32.8,"v":23},
      {"f":32.89,"v":20},{"f":33,"v":24},{"f":33.12,"v":27.9},{"f":33.24,"v":24},{"f":33.35,"v":32.4},{"f":33.45,"v":27},
      {"f":33.55,"v":25.9},{"f":33.65,"v":29},{"f":33.75,"v":22.3},{"f":33.85,"v":25},{"f":33.95,"v":27.9},{"f":34.05,"v":21},
      {"f":34.15,"v":22.3},{"f":34.24,"v":25},{"f":34.33,"v":19.2},{"f":34.45,"v":20.5},{"f":34.56,"v":16.6},{"f":34.68,"v":19},
      {"f":34.8,"v":17.2},{"f":34.9,"v":14},{"f":35,"v":13.7},{"f":35.12,"v":11.5},{"f":35.24,"v":10.6},{"f":35.35,"v":9},
      {"f":35.46,"v":8},{"f":35.56,"v":9.6},{"f":35.67,"v":9.12},{"f":35.77,"v":6.8},{"f":35.88,"v":7.85},{"f":36,"v":5.6},
      {"f":36.13,"v":6.05},{"f":36.25,"v":4.6},{"f":36.38,"v":5.02},{"f":36.48,"v":4.2},{"f":36.59,"v":3.33},{"f":36.72,"v":4.8},
      {"f":36.84,"v":4.32},{"f":36.97,"v":5.4},{"f":37.1,"v":5.82},{"f":37.21,"v":4.4},{"f":37.33,"v":7.56},{"f":37.44,"v":5},
      {"f":37.55,"v":4.83},{"f":37.7,"v":4.1},{"f":37.84,"v":5.51},{"f":37.95,"v":4},{"f":38.07,"v":3.45},{"f":38.18,"v":4.6},
      {"f":38.3,"v":5.41},{"f":38.41,"v":3.8},{"f":38.52,"v":4.66},{"f":38.67,"v":5.5},{"f":38.83,"v":3.45},{"f":38.96,"v":4.8},
      {"f":39.1,"v":4.16},{"f":39.23,"v":5.2},{"f":39.37,"v":4.83},{"f":39.52,"v":3.7},{"f":39.67,"v":4.66},{"f":39.85,"v":5.5},
      {"f":40.03,"v":4.32},{"f":40.1,"v":5.4},{"f":40.16,"v":3.9},{"f":40.22,"v":5.02},{"f":40.3,"v":4},{"f":40.37,"v":5.6},
      {"f":40.43,"v":4.66},{"f":40.52,"v":3.8},{"f":40.62,"v":5.3},{"f":40.71,"v":5.21},{"f":40.82,"v":3.9},{"f":40.92,"v":5.5},
      {"f":41.03,"v":4.48},{"f":41.14,"v":5.6},{"f":41.24,"v":3.8},{"f":41.35,"v":4.83},{"f":41.45,"v":3.9},{"f":41.55,"v":5.5},
      {"f":41.64,"v":7.29},{"f":41.71,"v":4.2},{"f":41.78,"v":5.2},{"f":41.85,"v":3.72},{"f":41.96,"v":5},{"f":42.07,"v":3.6},
      {"f":42.18,"v":4.32},{"f":42.28,"v":5.2},{"f":42.38,"v":3.4},{"f":42.48,"v":3.59},{"f":42.58,"v":4.8},{"f":42.68,"v":3.5},
      {"f":42.77,"v":4.01},{"f":42.88,"v":5.1},{"f":43,"v":3.4},{"f":43.11,"v":4.16},{"f":43.22,"v":4.9},{"f":43.34,"v":3.3},
      {"f":43.45,"v":3.72},{"f":43.55,"v":4.6},{"f":43.65,"v":3.4},{"f":43.75,"v":5.02},{"f":43.82,"v":3.5},{"f":43.9,"v":4.4},
      {"f":43.97,"v":3.09},{"f":44.08,"v":4.5},{"f":44.2,"v":3.4},{"f":44.31,"v":4.66},{"f":44.41,"v":3.3},{"f":44.52,"v":4.3},
      {"f":44.62,"v":3.86},{"f":44.7,"v":5},{"f":44.77,"v":3.6},{"f":44.84,"v":8.15},{"f":44.91,"v":4},{"f":44.98,"v":4.8},
      {"f":45.06,"v":3.59},{"f":45.16,"v":4.5},{"f":45.27,"v":3.3},{"f":45.38,"v":3.2},{"f":45.5,"v":4.4},{"f":45.62,"v":3.5},
      {"f":45.74,"v":3.86},{"f":45.86,"v":4.8},{"f":45.98,"v":3.4},{"f":46.1,"v":5.41},{"f":46.2,"v":3.6},{"f":46.31,"v":4.6},
      {"f":46.42,"v":3.59},{"f":46.53,"v":4.9},{"f":46.63,"v":3.3},{"f":46.74,"v":4.32},{"f":46.86,"v":3.5},{"f":46.99,"v":4.7},
      {"f":47.11,"v":4.01},{"f":47.23,"v":5.2},{"f":47.36,"v":3.6},{"f":47.48,"v":4.48},{"f":47.56,"v":3.7},{"f":47.64,"v":4.9},
      {"f":47.72,"v":5.21},{"f":47.83,"v":3.8},{"f":47.94,"v":4.5},{"f":48.05,"v":3.59},{"f":48.18,"v":4.4},{"f":48.3,"v":3.2},
      {"f":48.43,"v":2.76},{"f":48.54,"v":4.2},{"f":48.66,"v":3.4},{"f":48.77,"v":5.82},{"f":48.88,"v":3.7},{"f":48.99,"v":4.8},
      {"f":49.1,"v":4.16},{"f":49.2,"v":5},{"f":49.3,"v":3.6},{"f":49.4,"v":4.48},{"f":49.47,"v":3.5},{"f":49.53,"v":4.6},
      {"f":49.6,"v":2.97},{"f":49.73,"v":4.7},{"f":49.86,"v":4},{"f":49.99,"v":5.61},{"f":50.12,"v":4.3},{"f":50.26,"v":5.4},
      {"f":50.39,"v":6.05},{"f":50.5,"v":4.8},{"f":50.62,"v":6.4},{"f":50.73,"v":6.51},{"f":50.85,"v":5.2},{"f":50.96,"v":7.4},
      {"f":51.08,"v":6.89},{"f":51.18,"v":5.6},{"f":51.28,"v":7.2},{"f":51.38,"v":7.85},{"f":51.5,"v":6.1},{"f":51.62,"v":8.4},
      {"f":51.74,"v":8.78},{"f":51.86,"v":6.8},{"f":51.98,"v":9},{"f":52.1,"v":9.64},{"f":52.2,"v":7.4},{"f":52.31,"v":9.2},
      {"f":52.41,"v":11},{"f":52.53,"v":7.8},{"f":52.65,"v":9.8},{"f":52.77,"v":8.78},{"f":52.89,"v":10.3},{"f":53.02,"v":7.4},
      {"f":53.14,"v":10.6},{"f":53.28,"v":7.2},{"f":53.42,"v":9},{"f":53.56,"v":7.85},{"f":53.65,"v":9.4},{"f":53.73,"v":6.9},
      {"f":53.82,"v":10.2},{"f":53.94,"v":6.4},{"f":54.07,"v":8.2},{"f":54.19,"v":6.28},{"f":54.33,"v":7.9},{"f":54.48,"v":5.6},
      {"f":54.62,"v":7.29},{"f":54.73,"v":5.4},{"f":54.83,"v":6.8},{"f":54.94,"v":6.05},{"f":55.05,"v":4.8},{"f":55.16,"v":6},
      {"f":55.27,"v":5.21},{"f":55.38,"v":4.1},{"f":55.49,"v":5.4},{"f":55.6,"v":4.32},{"f":55.73,"v":5.3},{"f":55.85,"v":3.8},
      {"f":55.98,"v":5.02},{"f":56.07,"v":3.6},{"f":56.16,"v":4.4},{"f":56.25,"v":3.09},{"f":56.36,"v":4.5},{"f":56.48,"v":3.4},
      {"f":56.59,"v":3.59},{"f":56.7,"v":4.6},{"f":56.81,"v":3.3},{"f":56.92,"v":4.01},{"f":57.03,"v":3.2},{"f":57.15,"v":4.2},
      {"f":57.26,"v":3.09},{"f":57.37,"v":4.4},{"f":57.49,"v":3.3},{"f":57.6,"v":4.48},{"f":57.71,"v":3.5},{"f":57.83,"v":5.4},
      {"f":57.94,"v":7.02},{"f":58.03,"v":4.4},{"f":58.13,"v":6.2},{"f":58.22,"v":5.21},{"f":58.32,"v":4},{"f":58.42,"v":6},
      {"f":58.52,"v":7.56},{"f":58.62,"v":4.6},{"f":58.71,"v":8.5},{"f":58.81,"v":20},{"f":58.9,"v":6},{"f":59,"v":3.4},
      {"f":59.1,"v":3.09},{"f":59.2,"v":2.5},{"f":59.3,"v":3.3},{"f":59.39,"v":2.76},{"f":59.49,"v":3.2},{"f":59.59,"v":2.4},
      {"f":59.69,"v":2.66},{"f":59.8,"v":3.4},{"f":59.89,"v":8},{"f":59.98,"v":27.4},{"f":60.08,"v":5},{"f":60.17,"v":2.9},
      {"f":60.27,"v":2.47},{"f":60.37,"v":3.2},{"f":60.47,"v":2.2},{"f":60.57,"v":2.87},{"f":60.67,"v":2.1},{"f":60.77,"v":2.7},
      {"f":60.87,"v":1.9},{"f":60.97,"v":2.8},{"f":61.07,"v":2.1},{"f":61.17,"v":2.56},{"f":61.31,"v":1.95},{"f":61.46,"v":2.9},
      {"f":61.6,"v":2.21},{"f":61.76,"v":3.1},{"f":61.93,"v":2},{"f":62.09,"v":2.56},{"f":62.25,"v":2},{"f":62.42,"v":2.9},
      {"f":62.58,"v":2.29},{"f":62.72,"v":2.8},{"f":62.87,"v":1.95},{"f":63.01,"v":2.05},{"f":63.16,"v":2.8},{"f":63.3,"v":2.1},
      {"f":63.45,"v":2.56},{"f":63.57,"v":3.3},{"f":63.7,"v":2.4},{"f":63.82,"v":3.09},{"f":63.97,"v":4.5},{"f":64.12,"v":3.6},
      {"f":64.27,"v":9.82},{"f":64.37,"v":4.6},{"f":64.48,"v":7.2},{"f":64.58,"v":5.21},{"f":64.69,"v":8},{"f":64.79,"v":5},
      {"f":64.9,"v":7.02},{"f":65.01,"v":5},{"f":65.12,"v":7.6},{"f":65.23,"v":6.05},{"f":65.34,"v":8.4},{"f":65.44,"v":5.2},
      {"f":65.55,"v":7.56},{"f":65.7,"v":5},{"f":65.86,"v":7.2},{"f":66.01,"v":6.05},{"f":66.18,"v":8},{"f":66.36,"v":5.2},
      {"f":66.53,"v":7.56},{"f":66.68,"v":5.1},{"f":66.84,"v":7},{"f":66.99,"v":5.61},{"f":67.17,"v":7.4},{"f":67.34,"v":5},
      {"f":67.52,"v":6.28},{"f":67.63,"v":5.1},{"f":67.75,"v":6.8},{"f":67.86,"v":8},{"f":67.99,"v":4.9},{"f":68.13,"v":5.8},
      {"f":68.26,"v":4.32},{"f":68.4,"v":5.5},{"f":68.53,"v":3.8},{"f":68.67,"v":4.83},{"f":68.8,"v":3.5},{"f":68.94,"v":4.6},
      {"f":69.07,"v":3.86},{"f":69.23,"v":4.9},{"f":69.39,"v":3.3},{"f":69.55,"v":4.16},{"f":69.71,"v":3.2},{"f":69.87,"v":4.4},
      {"f":70.03,"v":3.59},{"f":70.22,"v":4.5},{"f":70.4,"v":3},{"f":70.59,"v":3.33},{"f":70.78,"v":4.2},{"f":70.96,"v":2.9},
      {"f":71.15,"v":3.72},{"f":71.31,"v":2.7},{"f":71.48,"v":3.6},{"f":71.64,"v":2.87},{"f":71.81,"v":3.4},{"f":71.97,"v":2.3},
      {"f":72.14,"v":2.13},{"f":72.28,"v":3.1},{"f":72.43,"v":2.4},{"f":72.57,"v":3.2},{"f":72.74,"v":2.2},{"f":72.9,"v":2.9},
      {"f":73.07,"v":2.47},{"f":73.24,"v":3},{"f":73.41,"v":2.1},{"f":73.58,"v":2.05},{"f":73.77,"v":2.9},{"f":73.97,"v":2.2},
      {"f":74.16,"v":2.76},{"f":74.33,"v":2},{"f":74.5,"v":2.8},{"f":74.67,"v":2.29},{"f":74.84,"v":3},{"f":75.02,"v":2.1},
      {"f":75.19,"v":2.66},{"f":75.34,"v":2},{"f":75.49,"v":2.9},{"f":75.64,"v":2.21},{"f":75.84,"v":3},{"f":76.04,"v":2.1},
      {"f":76.24,"v":2.87},{"f":76.42,"v":2.1},{"f":76.59,"v":2.7},{"f":76.77,"v":2.38},{"f":76.95,"v":2.8},{"f":77.13,"v":2},
      {"f":77.31,"v":1.83},{"f":77.51,"v":2.6},{"f":77.72,"v":2},{"f":77.92,"v":2.47},{"f":78.12,"v":2},{"f":78.33,"v":2.9},
      {"f":78.53,"v":2.21},{"f":78.71,"v":2.9},{"f":78.89,"v":2.1},{"f":79.07,"v":2.87},{"f":79.25,"v":2.2},{"f":79.44,"v":3},
      {"f":79.62,"v":2.56},{"f":79.83,"v":3.3},{"f":80.05,"v":2.4},{"f":80.26,"v":3.45},{"f":80.47,"v":2.5},{"f":80.68,"v":3.3},
      {"f":80.89,"v":2.87},{"f":81.08,"v":3.5},{"f":81.26,"v":2.5},{"f":81.45,"v":2.66},{"f":81.64,"v":3.5},{"f":81.83,"v":2.6},
      {"f":82.02,"v":3.2},{"f":82.24,"v":4},{"f":82.45,"v":2.9},{"f":82.67,"v":3.86},{"f":82.81,"v":4.8},{"f":82.94,"v":3.6},
      {"f":83.08,"v":6.05},{"f":83.27,"v":3.9},{"f":83.47,"v":5},{"f":83.66,"v":3.86},{"f":83.88,"v":5.2},{"f":84.1,"v":3.9},
      {"f":84.32,"v":4.32},{"f":84.54,"v":5.8},{"f":84.76,"v":4.2},{"f":84.98,"v":4.83},{"f":85.18,"v":6.5},{"f":85.37,"v":4.6},
      {"f":85.57,"v":6.51},{"f":85.71,"v":8},{"f":85.86,"v":5.8},{"f":86,"v":8.15},{"f":86.14,"v":10},{"f":86.28,"v":7},
      {"f":86.42,"v":11.4},{"f":86.56,"v":7.4},{"f":86.7,"v":9},{"f":86.84,"v":8.15},{"f":86.98,"v":6},{"f":87.13,"v":7.6},
      {"f":87.27,"v":6.51},{"f":87.41,"v":4.8},{"f":87.56,"v":6},{"f":87.7,"v":4.83},{"f":87.87,"v":3.8},{"f":88.05,"v":4.8},
      {"f":88.22,"v":3.86},{"f":88.4,"v":3},{"f":88.57,"v":4},{"f":88.75,"v":3.2},{"f":88.92,"v":2.6},{"f":89.1,"v":3.5},
      {"f":89.27,"v":2.56},{"f":89.48,"v":3.4},{"f":89.68,"v":2.4},{"f":89.89,"v":2.97},{"f":90.1,"v":2.2},{"f":90.31,"v":3.2},
      {"f":90.52,"v":2.38},{"f":90.76,"v":3.3},{"f":91,"v":2.3},{"f":91.24,"v":2.97},{"f":91.42,"v":2.2},{"f":91.6,"v":3.4},
      {"f":91.78,"v":2.56},{"f":91.96,"v":3.6},{"f":92.15,"v":2.4},{"f":92.33,"v":3.33},{"f":92.51,"v":2.5},{"f":92.69,"v":3.2},
      {"f":92.87,"v":2.13},{"f":93.09,"v":3},{"f":93.3,"v":2.4},{"f":93.52,"v":2.87},{"f":93.74,"v":3.8},{"f":93.95,"v":2.6},
      {"f":94.17,"v":3.45},{"f":94.35,"v":2.5},{"f":94.54,"v":3.6},{"f":94.72,"v":2.47},{"f":94.94,"v":4},{"f":95.16,"v":3},
      {"f":95.38,"v":4.48},{"f":95.54,"v":3.3},{"f":95.69,"v":5},{"f":95.85,"v":5.41},{"f":96.01,"v":3.6},{"f":96.17,"v":4.8},
      {"f":96.33,"v":4.01},{"f":96.49,"v":5.6},{"f":96.64,"v":3.5},{"f":96.8,"v":5.61},{"f":96.96,"v":4},{"f":97.12,"v":6},
      {"f":97.28,"v":3.86},{"f":97.44,"v":5.2},{"f":97.59,"v":3.2},{"f":97.75,"v":2.87},{"f":97.91,"v":4.4},{"f":98.08,"v":3.4},
      {"f":98.24,"v":4.66},{"f":98.4,"v":6.2},{"f":98.56,"v":4},{"f":98.72,"v":6.89},{"f":98.88,"v":4.4},{"f":99.04,"v":5.8},
      {"f":99.2,"v":4.83},{"f":99.37,"v":6.5},{"f":99.53,"v":3.8},{"f":99.7,"v":4.32},{"f":99.85,"v":6},{"f":100,"v":4.6}
    ],
    "series": [
      {"name": "Floor"},
      {"name": "DVIA-MO1000"}
    ]
  },
  "layer": [
    {
      "data": {"name": "floor"},
      "mark": {"type": "line", "color": "#e80000", "strokeWidth": 1, "clip": true},
      "encoding": {
        "x": {
          "field": "f",
          "type": "quantitative",
          "scale": {"type": "log", "domain": [1, 100], "nice": false},
          "axis": {
            "values": [1, 2, 3, 4, 5, 6, 7, 8, 9, 10, 20, 30, 40, 50, 60, 70, 80, 90, 100],
            "labelExpr": "datum.value == 1 ? '1.00' : datum.value == 10 ? '10.0' : datum.value == 100 ? '100' : ''",
            "labelFlush": true,
            "labelOverlap": false,
            "labelFontSize": 14,
            "labelColor": "black",
            "labelPadding": 10,
            "tickSize": -6,
            "tickColor": "black",
            "domainColor": "black",
            "domainWidth": 2,
            "grid": true,
            "gridColor": {"condition": {"test": "datum.value == 10", "value": "#808080"}, "value": "rgba(0,0,0,0)"},
            "title": "Hz",
            "titleColor": "#8b1a1a",
            "titleFontSize": 16,
            "titleFontWeight": "bold",
            "titlePadding": 2
          }
        },
        "y": {
          "field": "v",
          "type": "quantitative",
          "scale": {"type": "log", "domain": [1, 3000], "nice": false},
          "axis": {
            "values": [1, 2, 3, 4, 5, 6, 7, 8, 9, 10, 20, 30, 40, 50, 60, 70, 80, 90, 100, 200, 300, 400, 500, 600, 700, 800, 900, 1000, 2000, 3000],
            "labelExpr": "datum.value == 3000 ? '3.00µ' : datum.value == 1000 ? '1.00µ' : datum.value == 100 ? '100.0n' : datum.value == 10 ? '10.0n' : datum.value == 1 ? '1.00n' : ''",
            "labelFlush": true,
            "labelOverlap": false,
            "labelFontSize": 14,
            "labelColor": "black",
            "labelPadding": 9,
            "tickSize": -6,
            "tickColor": "black",
            "domainColor": "black",
            "domainWidth": 2,
            "grid": true,
            "gridColor": {"condition": {"test": "datum.value == 1 || datum.value == 10 || datum.value == 100 || datum.value == 1000", "value": "#808080"}, "value": "#c0c0c0"},
            "title": "LogMag, m/s",
            "titleColor": "#8b1a1a",
            "titleFontSize": 17,
            "titleFontWeight": "bold",
            "titlePadding": 4
          }
        }
      }
    },
    {
      "data": {"name": "dvia"},
      "mark": {"type": "line", "color": "#0000e0", "strokeWidth": 1, "clip": true},
      "encoding": {
        "x": {"field": "f", "type": "quantitative"},
        "y": {"field": "v", "type": "quantitative"}
      }
    },
    {
      "data": {"name": "series"},
      "transform": [{"filter": "datum.name == 'Floor'"}],
      "mark": {"type": "rect", "fill": "#fefef0", "stroke": "#e00000", "strokeWidth": 1},
      "encoding": {
        "x": {"datum": 30.25, "type": "quantitative"},
        "x2": {"datum": 37.03},
        "y": {"datum": 2990, "type": "quantitative"},
        "y2": {"datum": 2203}
      }
    },
    {
      "data": {"name": "series"},
      "transform": [{"filter": "datum.name == 'Floor'"}],
      "mark": {"type": "text", "color": "#e00000", "fontSize": 22, "fontWeight": "bold", "align": "center", "baseline": "middle"},
      "encoding": {
        "x": {"datum": 33.55, "type": "quantitative"},
        "y": {"datum": 2568, "type": "quantitative"},
        "text": {"field": "name"}
      }
    },
    {
      "data": {"name": "series"},
      "transform": [{"filter": "datum.name == 'DVIA-MO1000'"}],
      "mark": {"type": "rect", "fill": "#fefef0", "stroke": "#0000e0", "strokeWidth": 1},
      "encoding": {
        "x": {"datum": 55.05, "type": "quantitative"},
        "x2": {"datum": 88.64},
        "y": {"datum": 2947, "type": "quantitative"},
        "y2": {"datum": 2188}
      }
    },
    {
      "data": {"name": "series"},
      "transform": [{"filter": "datum.name == 'DVIA-MO1000'"}],
      "mark": {"type": "text", "color": "#0000e0", "fontSize": 22, "fontWeight": "bold", "align": "center", "baseline": "middle"},
      "encoding": {
        "x": {"datum": 70, "type": "quantitative"},
        "y": {"datum": 2568, "type": "quantitative"},
        "text": {"field": "name"}
      }
    }
  ],
  "config": {
    "font": "Liberation Sans",
    "view": {"fill": "#fefef0", "stroke": null},
    "axis": {"labelFont": "Liberation Sans", "titleFont": "Liberation Sans"}
  }
}
